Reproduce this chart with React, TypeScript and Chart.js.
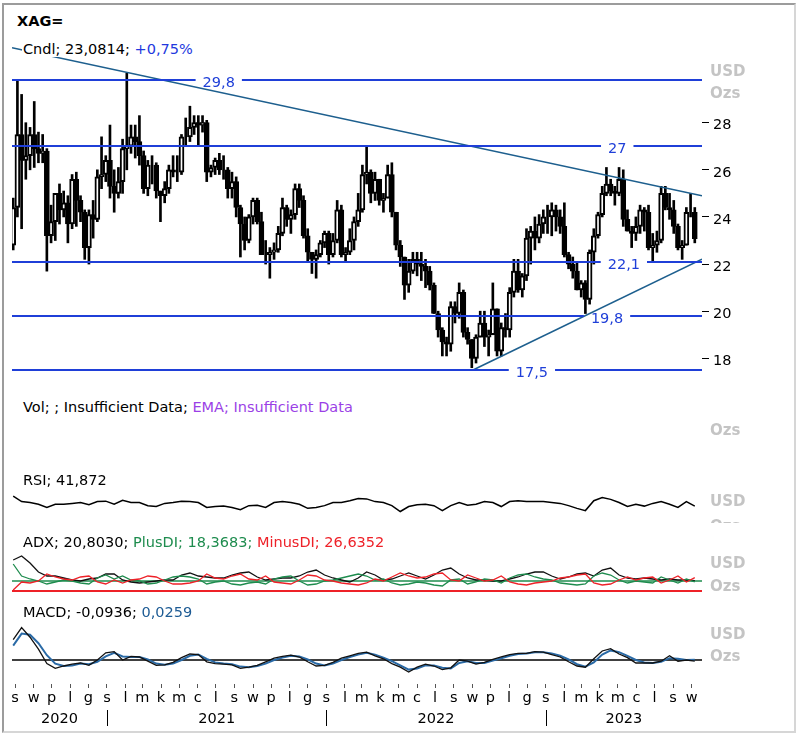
import React, { useEffect, useRef } from "react";
import { Chart, registerables } from "chart.js";

Chart.register(...registerables);

// ---------------- data ----------------
const startDateUTC = Date.UTC(2020, 6, 27); // Monday of the first weekly candle
const lastAxisDay = 1148; // right edge of the time axis (days from start)
const monthLetters = ["s", "l", "m", "k", "m", "c", "l", "s", "w", "p", "l", "g"];
const yearLabels = ["2020", "2021", "2022", "2023"];
const priceTicks = [18, 20, 22, 24, 26, 28];

// weekly candles, XAG= (USD / oz), week of 27.07.2020 .. week of 04.09.2023
const candleOpen = [
  22.8, 24.4, 27.5, 26.4, 26.6, 27.5, 26.9, 26.7, 26.8, 23.2, 23.8, 25.0, 24.3, 24.6, 23.7, 25.6, 24.7, 24.2, 22.7, 24.1, 23.9, 25.7, 25.8,
  26.4, 25.3, 25.0, 25.5, 26.9, 27.0, 27.4, 27.2, 26.6, 25.2, 26.2, 26.2, 25.1, 24.9, 25.2, 26.0, 25.9, 25.9, 27.4, 27.4, 27.8, 28.0, 27.9, 28.0, 25.9, 26.1,
  26.4, 26.0, 26.0, 25.2, 25.5, 24.4, 23.7, 23.0, 24.0, 24.7, 23.8, 22.4, 22.4, 22.5, 22.6, 23.3, 24.4, 23.9, 24.1, 25.2, 24.7, 23.2, 22.5, 22.2, 22.4, 22.9,
  23.3, 22.4, 23.0, 24.3, 22.4, 22.5, 23.0, 23.8, 24.3, 25.8, 25.9, 25.0, 25.6, 24.7, 24.8, 25.8, 24.2, 22.8, 22.3, 21.1, 21.7, 22.2, 22.0, 21.9, 21.7, 21.1,
  19.9, 19.2, 18.7, 18.6, 20.2, 19.9, 20.8, 19.1, 18.8, 18.0, 18.9, 19.5, 18.9, 19.0, 20.1, 18.3, 19.3, 19.2, 20.8, 21.7, 20.9, 21.5, 23.1, 23.4, 23.1, 23.7,
  24.0, 24.0, 24.3, 24.0, 23.6, 22.4, 22.0, 21.7, 20.9, 21.2, 20.5, 22.5, 23.2, 24.1, 25.0, 25.4, 25.1, 25.0, 25.6, 23.9, 23.4, 23.3, 23.6, 24.3, 24.2, 22.7,
  22.8, 23.0, 25.0, 24.4, 24.3, 23.6, 22.7, 22.8, 24.2, 24.2,
];
const candleHigh = [
  24.8, 29.8, 29.2, 28.0, 27.8, 28.9, 27.6, 27.5, 26.9, 24.5, 25.0, 25.4, 25.1, 24.9, 25.8, 25.9, 24.9, 24.3, 24.3, 24.7, 26.0, 27.4, 26.6,
  27.9, 26.0, 26.1, 27.3, 30.1, 27.9, 27.9, 28.3, 26.8, 26.4, 26.6, 26.3, 25.1, 25.5, 26.2, 26.6, 26.6, 27.5, 28.2, 28.7, 28.3, 28.3, 28.3, 28.1, 26.2, 26.5,
  26.7, 26.6, 26.1, 25.9, 25.7, 24.5, 24.0, 24.1, 24.8, 24.8, 24.2, 23.0, 22.7, 22.9, 23.6, 24.8, 24.5, 24.3, 25.4, 25.4, 24.9, 23.5, 22.5, 22.6, 23.0, 23.4,
  23.4, 23.3, 24.7, 24.5, 22.7, 23.5, 24.0, 25.0, 26.2, 27.0, 26.0, 25.9, 25.6, 25.0, 26.2, 26.3, 24.2, 23.0, 22.3, 22.2, 22.5, 22.5, 22.5, 22.2, 21.9, 21.2,
  20.0, 19.3, 18.9, 20.4, 20.4, 21.2, 20.9, 19.3, 18.8, 19.0, 20.0, 20.0, 19.2, 21.2, 20.1, 19.5, 19.9, 21.0, 22.2, 22.2, 21.6, 23.5, 23.6, 24.0, 24.1, 24.3,
  24.5, 24.6, 24.5, 24.3, 24.6, 22.5, 22.3, 22.1, 21.3, 21.3, 22.6, 23.5, 24.2, 25.3, 26.1, 25.6, 25.3, 26.1, 26.0, 24.3, 23.6, 24.0, 24.5, 24.4, 24.5, 23.3,
  23.4, 25.3, 25.3, 25.0, 24.7, 23.7, 23.0, 24.4, 25.0, 24.4,
];
const candleLow = [
  22.6, 24.0, 23.5, 25.6, 26.0, 26.1, 26.3, 26.3, 21.7, 22.9, 23.0, 23.7, 24.0, 22.9, 23.5, 23.6, 23.8, 22.2, 22.0, 23.1, 23.8, 25.2, 25.5,
  24.8, 24.2, 24.8, 25.0, 26.0, 26.7, 26.5, 26.2, 25.0, 24.9, 25.4, 24.8, 23.8, 24.6, 25.0, 25.7, 25.5, 25.8, 27.0, 27.2, 27.5, 27.0, 27.6, 25.5, 25.7, 25.8,
  25.8, 25.6, 24.8, 24.8, 24.0, 22.3, 22.6, 22.9, 23.7, 23.7, 22.4, 22.0, 21.4, 22.2, 22.5, 23.2, 23.6, 23.3, 23.9, 24.4, 23.1, 22.1, 21.6, 21.4, 22.3, 22.7,
  22.0, 22.3, 22.9, 22.3, 22.1, 22.4, 22.6, 23.6, 24.2, 25.4, 24.6, 24.7, 24.5, 24.2, 24.8, 24.0, 22.6, 21.9, 20.5, 20.8, 21.6, 21.5, 21.3, 21.0, 20.9, 19.9,
  18.9, 18.1, 18.1, 18.3, 19.5, 19.7, 18.9, 18.6, 17.6, 17.8, 18.9, 18.5, 18.1, 19.0, 18.1, 18.1, 18.9, 18.9, 20.6, 20.8, 20.6, 21.3, 22.0, 22.6, 22.9, 23.3,
  23.3, 23.2, 23.4, 23.3, 22.3, 21.8, 21.4, 20.9, 20.6, 19.9, 20.3, 22.0, 23.1, 24.0, 24.9, 24.9, 24.5, 24.9, 23.6, 23.4, 22.7, 23.0, 23.3, 23.4, 22.6, 22.1,
  22.5, 22.9, 24.3, 23.9, 23.3, 22.6, 22.2, 22.8, 24.0, 22.9,
];
const candleClose = [
  24.4, 27.5, 26.4, 26.6, 27.5, 26.9, 26.7, 26.8, 23.2, 23.8, 25.0, 24.3, 24.6, 23.7, 25.6, 24.7, 24.2, 22.7, 24.1, 23.9, 25.7, 25.8, 26.4,
  25.3, 25.0, 25.5, 26.9, 27.0, 27.4, 27.2, 26.6, 25.2, 26.2, 26.2, 25.1, 24.9, 25.2, 26.0, 25.9, 25.9, 27.4, 27.4, 27.8, 28.0, 27.9, 28.0, 25.9, 26.1, 26.4,
  26.0, 26.0, 25.2, 25.5, 24.4, 23.7, 23.0, 24.0, 24.7, 23.8, 22.4, 22.4, 22.5, 22.6, 23.3, 24.4, 23.9, 24.1, 25.2, 24.7, 23.2, 22.5, 22.2, 22.4, 22.9, 23.3,
  22.4, 23.0, 24.3, 22.4, 22.5, 23.0, 23.8, 24.3, 25.8, 25.9, 25.0, 25.6, 24.7, 24.8, 25.8, 24.2, 22.8, 22.3, 21.1, 21.7, 22.2, 22.0, 21.9, 21.7, 21.1, 19.9,
  19.2, 18.7, 18.6, 20.2, 19.9, 20.8, 19.1, 18.8, 18.0, 18.9, 19.5, 18.9, 19.0, 20.1, 18.3, 19.3, 19.2, 20.8, 21.7, 20.9, 21.5, 23.1, 23.4, 23.1, 23.7, 24.0,
  24.0, 24.3, 24.0, 23.6, 22.4, 22.0, 21.7, 20.9, 21.2, 20.5, 22.5, 23.2, 24.1, 25.0, 25.4, 25.1, 25.0, 25.6, 23.9, 23.4, 23.3, 23.6, 24.3, 24.2, 22.7, 22.8,
  23.0, 25.0, 24.4, 24.3, 23.6, 22.7, 22.8, 24.2, 24.2, 23.08,
];

// support / resistance levels and where their labels sit (days from start)
const levelValues = [29.8, 27, 22.1, 19.8, 17.5];
const levelLabelDays = [344, 1007, 1018, 990, 865];
// trend lines
const trendDownDays = [0, 1148];
const trendDownValues = [31.18, 24.9];
const trendUpDays = [767, 1148];
const trendUpValues = [17.5, 22.21];

// indicators, sampled every two weeks
const rsiValues = [
  64, 52, 50, 46, 39, 46, 46, 48, 50, 45, 52, 53, 46, 55, 50, 50, 43, 41, 48, 50,
  53, 52, 50, 39, 41, 42, 39, 34, 43, 44, 39, 50, 52, 50, 46, 37, 39, 43, 50, 50,
  54, 59, 58, 52, 50, 43, 30, 41, 45, 46, 43, 32, 43, 50, 44, 46, 52, 50, 41, 52,
  54, 52, 52, 52, 50, 48, 43, 37, 32, 54, 61, 57, 50, 41, 46, 42, 48, 52, 46, 39,
  52, 41.87,
];
const adxValues = [
  62, 70, 56, 38, 30, 30, 26, 22, 20, 24, 26, 34, 34, 22, 18, 16, 18, 20, 22, 22,
  32, 36, 30, 28, 26, 26, 32, 36, 38, 28, 22, 24, 26, 26, 30, 38, 42, 32, 26, 22,
  18, 26, 38, 32, 22, 24, 30, 36, 30, 24, 32, 42, 46, 34, 26, 22, 22, 20, 20, 24,
  28, 34, 38, 38, 30, 24, 28, 34, 36, 30, 42, 46, 32, 26, 24, 26, 24, 22, 24, 22,
  22, 20.8,
];
const plusDiValues = [
  54, 30, 24, 20, 14, 18, 22, 20, 16, 14, 26, 32, 24, 30, 22, 20, 14, 16, 22, 28,
  30, 28, 24, 14, 18, 20, 14, 12, 16, 18, 14, 24, 28, 30, 20, 12, 14, 20, 22, 26,
  30, 34, 30, 22, 24, 16, 12, 14, 18, 16, 12, 10, 22, 24, 14, 18, 24, 22, 16, 26,
  32, 34, 28, 24, 22, 16, 14, 12, 14, 30, 36, 32, 22, 16, 20, 18, 16, 28, 22, 16,
  24, 18.37,
];
const minusDiValues = [
  2, 18, 16, 20, 34, 28, 24, 22, 28, 30, 18, 14, 22, 16, 22, 24, 30, 28, 20, 14,
  14, 16, 20, 34, 26, 24, 30, 34, 24, 22, 30, 18, 16, 14, 22, 32, 30, 22, 20, 16,
  14, 12, 16, 24, 20, 28, 36, 30, 26, 28, 34, 36, 22, 20, 32, 26, 20, 22, 30, 18,
  14, 12, 16, 18, 20, 26, 28, 32, 34, 16, 12, 14, 22, 28, 22, 26, 28, 16, 22, 30,
  18, 26.64,
];
const adxRefLevels = [20, 0];
const macdValues = [
  1.7, 2.7, 1.9, 0.9, -0.3, -0.7, -0.5, -0.35, -0.25, -0.45, 0.0, 0.6, 0.7, 0.0, 0.3, 0.25, -0.1, -0.45, -0.4, -0.2,
  0.2, 0.5, 0.45, -0.15, -0.3, -0.35, -0.4, -0.7, -0.6, -0.45, -0.15, 0.15, 0.3, 0.4, 0.25, -0.15, -0.5, -0.45, -0.2, 0.15,
  0.35, 0.55, 0.65, 0.35, 0.1, -0.3, -0.6, -1.0, -0.6, -0.35, -0.5, -0.8, -0.65, 0.0, -0.1, -0.35, -0.2, 0.05, 0.25, 0.45,
  0.55, 0.55, 0.7, 0.65, 0.45, 0.25, -0.15, -0.5, -0.6, 0.1, 0.75, 0.95, 0.5, 0.2, -0.25, -0.25, -0.25, -0.1, 0.35, -0.1,
  0.0, -0.094,
];
const signalValues = [
  1.2, 2.2, 2.1, 1.4, 0.4, -0.3, -0.5, -0.45, -0.3, -0.35, -0.15, 0.3, 0.6, 0.3, 0.25, 0.25, 0.05, -0.3, -0.4, -0.3,
  0.0, 0.35, 0.45, 0.1, -0.2, -0.3, -0.35, -0.55, -0.6, -0.5, -0.3, 0.0, 0.2, 0.35, 0.3, 0.05, -0.3, -0.45, -0.3, 0.0,
  0.25, 0.45, 0.6, 0.45, 0.2, -0.1, -0.45, -0.8, -0.7, -0.45, -0.45, -0.65, -0.7, -0.25, -0.1, -0.25, -0.25, -0.05, 0.15, 0.35,
  0.5, 0.55, 0.65, 0.65, 0.55, 0.35, 0.05, -0.35, -0.55, -0.2, 0.45, 0.8, 0.65, 0.35, 0.0, -0.2, -0.25, -0.15, 0.15, 0.1,
  0.0, 0.026,
];

// header texts
const lastPrice = "23,0814";
const lastChange = "+0,75%";
const rsiLast = "41,872";
const adxLast = "20,8030";
const plusDiLast = "18,3683";
const minusDiLast = "26,6352";
const macdLast = "-0,0936";
const signalLast = "0,0259";

// ---------------- styling ----------------
const FONT = '"DejaVu Sans", Verdana, sans-serif';
const DAY_MS = 86400000;
const LEVEL_COLOR = "#1f3fd8";
const TREND_COLOR = "#1d5f8e";
const UNIT_COLOR = "#c4c4c4";
const GREEN = "#1e8c4e";
const RED = "#ee2128";
const MACD_BLUE = "#2a6aa6";

const candleDay = candleClose.map((_, i) => 2 + 7 * i);
const indDay = rsiValues.map((_, i) => 2 + 14 * i);

const baseOptions = (padRight: number) => ({
  responsive: false,
  animation: false,
  devicePixelRatio: 1,
  events: [],
  layout: { padding: { left: 12, right: padRight, top: 0, bottom: 0 }, autoPadding: false },
  plugins: { legend: { display: false }, tooltip: { enabled: false } },
});

const hiddenX = { type: "linear", min: 0, max: lastAxisDay, display: false, offset: false };

const lineDs = (days: number[], values: number[], color: string, width: number) => ({
  type: "line",
  data: values.map((v, i) => ({ x: days[i], y: v })),
  borderColor: color,
  borderWidth: width,
  pointRadius: 0,
  tension: 0,
  fill: false,
});

const levelPlugin = {
  id: "levels",
  afterDatasetsDraw(chart: any) {
    const { ctx, chartArea, scales } = chart;
    const xs = scales.x;
    const ys = scales.y;
    ctx.save();
    ctx.font = `14.5px ${FONT}`;
    levelValues.forEach((v, k) => {
      const py = Math.round(ys.getPixelForValue(v));
      const label = String(v).replace(".", ",");
      const w = ctx.measureText(label).width;
      const cx = xs.getPixelForValue(levelLabelDays[k]);
      const g0 = cx - w / 2 - 7;
      const g1 = cx + w / 2 + 7;
      ctx.strokeStyle = LEVEL_COLOR;
      ctx.lineWidth = 2;
      ctx.beginPath();
      ctx.moveTo(chartArea.left, py);
      ctx.lineTo(g0, py);
      ctx.moveTo(g1, py);
      ctx.lineTo(chartArea.right, py);
      ctx.stroke();
      ctx.fillStyle = LEVEL_COLOR;
      ctx.textAlign = "center";
      ctx.textBaseline = "alphabetic";
      ctx.fillText(label, cx, py + 7);
    });
    ctx.restore();
  },
};

const yearPlugin = {
  id: "years",
  afterDraw(chart: any) {
    const { ctx, chartArea, scales } = chart;
    const xs = scales.x;
    const b = chartArea.bottom;
    ctx.save();
    ctx.font = `14.5px ${FONT}`;
    ctx.fillStyle = "#000";
    ctx.strokeStyle = "#000";
    ctx.lineWidth = 1;
    ctx.textAlign = "center";
    ctx.textBaseline = "alphabetic";
    yearLabels.forEach((yl) => {
      const yr = Number(yl);
      const d0 = (Date.UTC(yr, 0, 1) - startDateUTC) / DAY_MS;
      const d1 = (Date.UTC(yr + 1, 0, 1) - startDateUTC) / DAY_MS;
      const a = xs.getPixelForValue(Math.max(0, d0));
      const e = xs.getPixelForValue(Math.min(lastAxisDay, d1));
      ctx.fillText(yl, (a + e) / 2, b + 39);
      if (d0 > 0) {
        const sx = Math.round(a) + 0.5;
        ctx.beginPath();
        ctx.moveTo(sx, b + 26);
        ctx.lineTo(sx, b + 42);
        ctx.stroke();
      }
    });
    ctx.restore();
  },
};

function priceConfig(): any {
  const bodies = candleClose.map((c, i) => ({ x: candleDay[i], y: [candleOpen[i], c] }));
  const wicks = candleClose.map((_, i) => ({ x: candleDay[i], y: [candleLow[i], candleHigh[i]] }));
  return {
    type: "bar",
    data: {
      datasets: [
        lineDs(trendDownDays, trendDownValues, TREND_COLOR, 1.6),
        lineDs(trendUpDays, trendUpValues, TREND_COLOR, 1.6),
        {
          type: "bar",
          data: bodies,
          backgroundColor: (c: any) =>
            c.raw && c.raw.y && c.raw.y[1] >= c.raw.y[0] ? "#ffffff" : "#000000",
          borderColor: "#000",
          borderWidth: 2,
          borderSkipped: false,
          barThickness: 5,
          grouped: false,
        },
        {
          type: "bar",
          data: wicks,
          backgroundColor: "#000",
          borderWidth: 0,
          barThickness: 2,
          grouped: false,
        },
      ],
    },
    options: {
      ...baseOptions(0),
      scales: {
        x: hiddenX,
        y: {
          position: "right",
          min: 16.655,
          max: 31.51,
          afterFit: (s: any) => {
            s.width = 98;
            s.paddingTop = 0;
            s.paddingBottom = 0;
          },
          afterBuildTicks: (s: any) => {
            s.ticks = priceTicks.map((v) => ({ value: v }));
          },
          ticks: {
            color: "#000",
            font: { family: FONT, size: 14.5 },
            padding: 4,
            labelOffset: 3,
            callback: (v: any) => String(v),
          },
          grid: { drawOnChartArea: false, drawTicks: true, tickLength: 7, color: "#000" },
          border: { display: false },
        },
      },
    },
    plugins: [levelPlugin],
  };
}

function rsiConfig(): any {
  return {
    type: "line",
    data: { datasets: [lineDs(indDay, rsiValues, "#000", 1.5)] },
    options: {
      ...baseOptions(98),
      scales: { x: hiddenX, y: { display: false, min: 0, max: 100 } },
    },
  };
}

function adxConfig(): any {
  return {
    type: "line",
    data: {
      datasets: [
        lineDs(indDay, minusDiValues, RED, 1.3),
        lineDs(indDay, plusDiValues, GREEN, 1.3),
        lineDs(indDay, adxValues, "#111", 1.3),
        lineDs([0, lastAxisDay], [adxRefLevels[0], adxRefLevels[0]], GREEN, 1.5),
        lineDs([0, lastAxisDay], [adxRefLevels[1], adxRefLevels[1]], RED, 2),
      ],
    },
    options: {
      ...baseOptions(98),
      scales: { x: hiddenX, y: { display: false, min: -18, max: 82 } },
    },
  };
}

function macdConfig(): any {
  return {
    type: "line",
    data: {
      datasets: [
        lineDs(indDay, macdValues, "#111", 1.3),
        lineDs(indDay, signalValues, MACD_BLUE, 2),
        lineDs([0, lastAxisDay], [0, 0], "#000", 1.3),
      ],
    },
    options: {
      ...baseOptions(98),
      scales: {
        x: {
          type: "linear",
          min: 0,
          max: lastAxisDay,
          offset: false,
          afterFit: (s: any) => {
            s.height = 46;
            s.paddingLeft = 0;
            s.paddingRight = 0;
          },
          afterBuildTicks: (s: any) => {
            const t: any[] = [];
            let y = 2020;
            let m = 7;
            for (;;) {
              const d = (Date.UTC(y, m, 1) - startDateUTC) / DAY_MS;
              if (d > lastAxisDay) break;
              t.push({ value: d });
              m++;
              if (m === 12) {
                m = 0;
                y++;
              }
            }
            s.ticks = t;
          },
          ticks: {
            autoSkip: false,
            maxRotation: 0,
            minRotation: 0,
            padding: 2,
            color: "#000",
            font: { family: FONT, size: 14.5 },
            callback: (v: any) => monthLetters[new Date(startDateUTC + Number(v) * DAY_MS).getUTCMonth()],
          },
          grid: { drawOnChartArea: false, drawTicks: true, tickLength: 4, color: "#555" },
          border: { display: false },
        },
        y: { display: false, min: -2, max: 3.3333 },
      },
    },
    plugins: [yearPlugin],
  };
}

function ChartCanvas({ top, height, make }: { top: number; height: number; make: () => any }) {
  const ref = useRef<HTMLCanvasElement>(null);
  useEffect(() => {
    const chart = new Chart(ref.current as HTMLCanvasElement, make());
    return () => chart.destroy();
  }, []);
  return (
    <canvas
      ref={ref}
      width={800}
      height={height}
      style={{ position: "absolute", left: 0, top, width: 800, height, display: "block" }}
    />
  );
}

function Txt({ x, cy, children, style }: any) {
  return (
    <div
      style={{
        position: "absolute",
        left: x,
        top: cy - 9,
        lineHeight: "18px",
        whiteSpace: "nowrap",
        fontFamily: FONT,
        fontSize: 14.5,
        color: "#000",
        ...style,
      }}
    >
      {children}
    </div>
  );
}

function Unit({ cy, children }: any) {
  return (
    <Txt x={710} cy={cy} style={{ fontWeight: "bold", fontSize: 15, color: UNIT_COLOR }}>
      {children}
    </Txt>
  );
}

export default function App() {
  return (
    <div
      style={{
        position: "fixed",
        left: 0,
        top: 0,
        width: 800,
        height: 735,
        background: "#fff",
        overflow: "hidden",
        fontFamily: FONT,
      }}
    >
      <ChartCanvas top={40} height={350} make={priceConfig} />
      <div style={{ position: "absolute", left: 0, top: 470, width: 800, height: 53, overflow: "hidden" }}>
        <ChartCanvas top={10} height={45} make={rsiConfig} />
        <Txt x={23} cy={10}>RSI; {rsiLast}</Txt>
        <Unit cy={31}>USD</Unit>
        <Unit cy={56}>Ozs</Unit>
      </div>
      <ChartCanvas top={550} height={50} make={adxConfig} />
      <ChartCanvas top={620} height={110} make={macdConfig} />

      <Txt x={17} cy={21} style={{ fontWeight: "bold" }}>XAG=</Txt>
      <div
        style={{
          position: "absolute",
          left: 22,
          top: 41,
          lineHeight: "16px",
          whiteSpace: "nowrap",
          fontFamily: FONT,
          fontSize: 14.5,
          background: "#fff",
          paddingLeft: 1,
        }}
      >
        Cndl; {lastPrice}; <span style={{ color: "#2238de" }}>{lastChange}</span>
      </div>
      <Unit cy={71}>USD</Unit>
      <Unit cy={93}>Ozs</Unit>

      <Txt x={23} cy={407}>
        Vol; ; Insufficient Data; <span style={{ color: "#9b3fe6" }}>EMA; Insufficient Data</span>
      </Txt>
      <Unit cy={430}>Ozs</Unit>

      <Txt x={23} cy={542}>
        ADX; {adxLast}; <span style={{ color: GREEN }}>PlusDI; {plusDiLast}; </span>
        <span style={{ color: RED }}>MinusDI; {minusDiLast}</span>
      </Txt>
      <Unit cy={563}>USD</Unit>
      <Unit cy={586}>Ozs</Unit>

      <Txt x={23} cy={612}>
        MACD; {macdLast}; <span style={{ color: "#1d5b94" }}>{signalLast}</span>
      </Txt>
      <Unit cy={634}>USD</Unit>
      <Unit cy={656}>Ozs</Unit>

      <div
        style={{
          position: "absolute",
          left: 2,
          top: 3,
          width: 794,
          height: 730,
          boxSizing: "border-box",
          borderTop: "2px solid #9c9c9c",
          borderLeft: "2px solid #9c9c9c",
          borderRight: "2px solid #d6d6d6",
          borderBottom: "2px solid #d6d6d6",
          pointerEvents: "none",
        }}
      />
    </div>
  );
}
